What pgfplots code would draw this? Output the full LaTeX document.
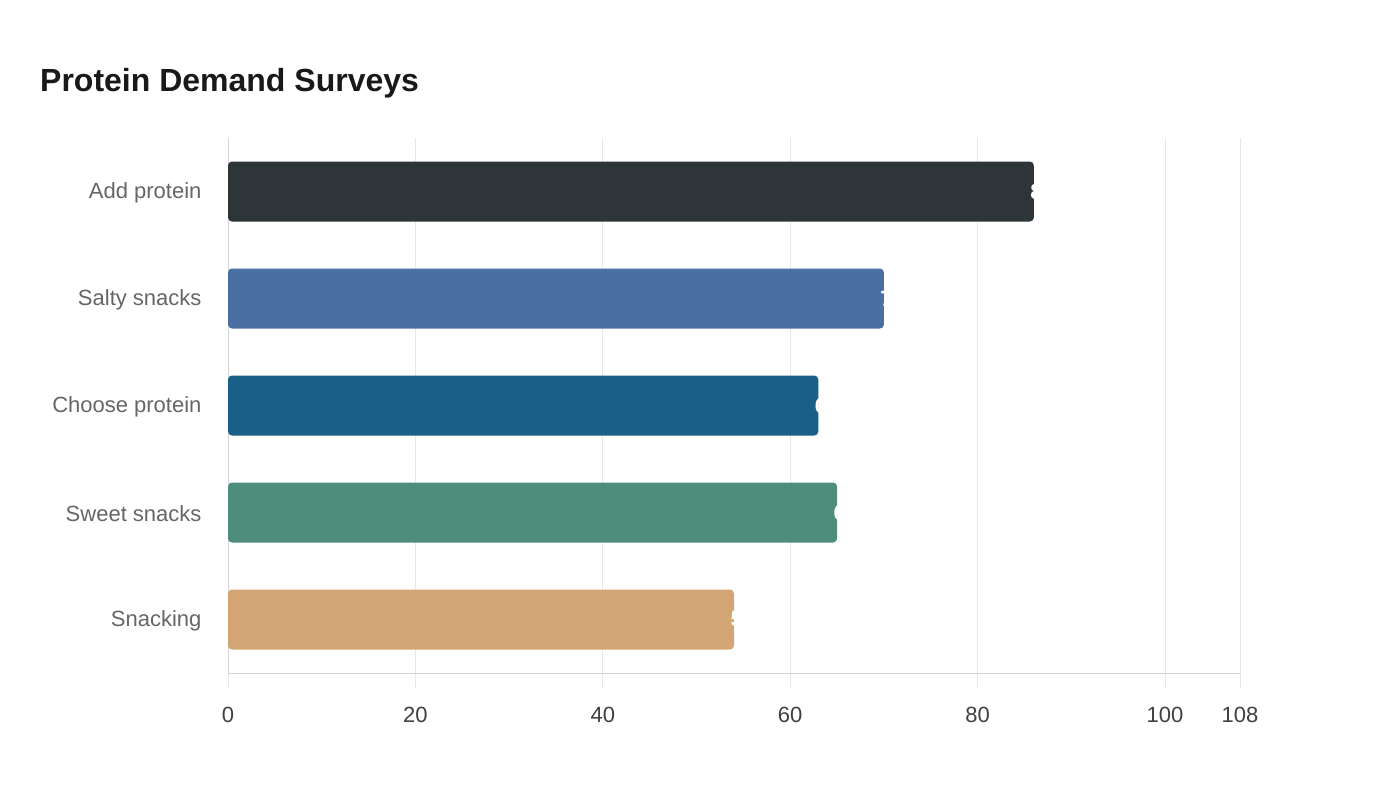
\documentclass[border=0pt]{standalone}
\usepackage{pgfplots}
\pgfplotsset{compat=1.18}
\usepackage{fontspec}
\setmainfont{Liberation Sans}
\definecolor{c1}{HTML}{2E3538}
\definecolor{c2}{HTML}{4A6FA3}
\definecolor{c3}{HTML}{1A5F87}
\definecolor{c4}{HTML}{4E8C7B}
\definecolor{c5}{HTML}{D4A574}
\definecolor{gridc}{HTML}{E8E8E8}
\definecolor{axc}{HTML}{D4D4D4}
\begin{document}
\begin{tikzpicture}[x=1pt,y=1pt]
\path[use as bounding box,fill=white] (0,0) rectangle (1400,-800);
\node[anchor=base west,font=\fontsize{32}{38}\selectfont\bfseries,text=black!90,inner sep=0] at (40,-92) {Protein Demand Surveys};
\begin{axis}[
  at={(228pt,-673pt)}, anchor=south west,
  width=1012pt, height=535pt, scale only axis,
  xmin=0, xmax=108, ymin=-0.5, ymax=4.5,
  xbar, bar width=60pt, bar shift=0pt,
  xtick={0,20,40,60,80,100,108},
  ytick={0,1,2,3,4},
  yticklabels={Snacking,Sweet snacks,Choose protein,Salty snacks,Add protein},
  axis line style={draw=axc, line width=1pt},
  axis x line*=bottom, axis y line*=left,
  xmajorgrids, grid style={draw=gridc, line width=1pt},
  major tick length=15pt, tick align=outside,
  xtick style={draw=gridc, line width=1pt},
  ytick style={draw=none},
  tick label style={font=\fontsize{22}{26}\selectfont},
  xticklabel style={text=black!75, yshift=-16pt},
  yticklabel style={text=black!60, xshift=-8pt, yshift=-1pt},
  /pgf/number format/assume math mode=true,
  clip=true,
  nodes near coords,
  nodes near coords style={anchor=west, xshift=-7pt, text=white, font=\fontsize{22}{26}\selectfont\bfseries},
  every axis plot/.append style={draw=none, rounded corners=4pt},
]
\addplot[fill=c1] coordinates {(86,4)};
\addplot[fill=c2] coordinates {(70,3)};
\addplot[fill=c3] coordinates {(63,2)};
\addplot[fill=c4] coordinates {(65,1)};
\addplot[fill=c5] coordinates {(54,0)};
\end{axis}
\end{tikzpicture}
\end{document}
